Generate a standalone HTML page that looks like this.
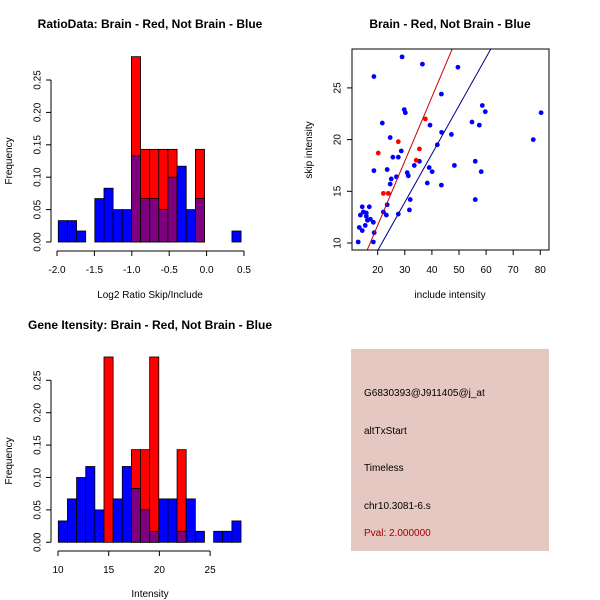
<!DOCTYPE html>
<html><head><meta charset="utf-8"><style>
html,body{margin:0;padding:0;background:#fff}
svg{display:block;font-family:"Liberation Sans","DejaVu Sans",sans-serif}
</style></head><body>
<svg id="c" width="600" height="600" viewBox="0 0 600 600" xmlns="http://www.w3.org/2000/svg">
<text x="150" y="28" text-anchor="middle" font-size="12" font-weight="bold">RatioData: Brain - Red, Not Brain - Blue</text>
<text x="450" y="28" text-anchor="middle" font-size="12" font-weight="bold">Brain - Red, Not Brain - Blue</text>
<text x="150" y="329" text-anchor="middle" font-size="12" font-weight="bold">Gene Itensity: Brain - Red, Not Brain - Blue</text>
<text x="150" y="298" text-anchor="middle" font-size="10">Log2 Ratio Skip/Include</text>
<text x="150" y="597" text-anchor="middle" font-size="10">Intensity</text>
<text x="450" y="298" text-anchor="middle" font-size="10">include intensity</text>
<text transform="translate(12,161) rotate(-90)" text-anchor="middle" font-size="10">Frequency</text>
<text transform="translate(12,461) rotate(-90)" text-anchor="middle" font-size="10">Frequency</text>
<text transform="translate(312,150) rotate(-90)" text-anchor="middle" font-size="10">skip intensity</text>
<rect x="351" y="349" width="198" height="202" fill="#E6C8C2"/>
<text x="364" y="396" font-size="10">G6830393@J911405@j_at</text>
<text x="364" y="434" font-size="10">altTxStart</text>
<text x="364" y="471" font-size="10">Timeless</text>
<text x="364" y="509" font-size="10">chr10.3081-6.s</text>
<text x="364" y="536" font-size="10" fill="#A00000">Pval: 2.000000</text>
</svg>
<script>
// ---- Ratio histogram data ----
const ratioBreakStart = -1.983;
const ratioBinWidth = 0.1222;
const ratioBlue = [0.033,0.033,0.017,0,0.067,0.083,0.05,0.05,0.133,0.067,0.067,0.05,0.1,0.117,0.05,0.067,0,0,0,0.017];
const ratioRed  = [0,0,0,0,0,0,0,0,0.286,0.143,0.143,0.143,0.143,0,0,0.143,0,0,0,0];
const ratioXTicks = [-2.0,-1.5,-1.0,-0.5,0.0,0.5];
const ratioXLabels = ["-2.0","-1.5","-1.0","-0.5","0.0","0.5"];
const freqTicks = [0,0.05,0.10,0.15,0.20,0.25];
const freqLabels = ["0.00","0.05","0.10","0.15","0.20","0.25"];
// ---- Intensity histogram data ----
const intBreakStart = 10.03;
const intBinWidth = 0.901;
const intBlue = [0.033,0.067,0.1,0.117,0.05,0,0.067,0.117,0.083,0.05,0.017,0.067,0.067,0.017,0.067,0.017,0,0.017,0.017,0.033];
const intRed  = [0,0,0,0,0,0.286,0,0,0.143,0.143,0.286,0,0,0.143,0,0,0,0,0,0];
const intXTicks = [10,15,20,25];
const intXLabels = ["10","15","20","25"];
// ---- Scatter data ----
const blueX = [29.0,36.5,49.6,18.6,43.5,58.6,59.7,29.8,30.2,80.3,21.7,54.8,57.5,39.3,43.6,47.2,24.6,77.4,42,28.7,25.6,27.6,35.4,56,33.5,48.3,18.6,23.5,39,40.1,58.2,30.9,31.3,26.9,25,24.6,38.3,43.5,32,56,23.5,14.3,16.9,13.6,14.7,15.8,15.8,22.1,23.2,27.6,31.7,16.2,17.3,18.4,15.4,13.2,14.3,18.7,12.8,18.4];
const blueY = [28.0,27.3,27.0,26.1,24.4,23.3,22.7,22.9,22.6,22.6,21.6,21.7,21.4,21.4,20.7,20.5,20.2,20.0,19.5,18.9,18.3,18.3,17.9,17.9,17.5,17.5,17.0,17.1,17.3,16.9,16.9,16.8,16.5,16.4,16.2,15.7,15.8,15.6,14.2,14.2,13.7,13.5,13.5,12.7,13.0,12.9,12.6,13.0,12.7,12.8,13.2,12.2,12.3,12.0,11.7,11.5,11.2,11.0,10.1,10.1];
const redX = [37.6,27.6,20.2,35.4,34.2,22.1,23.9];
const redY = [22.0,19.8,18.7,19.1,18.0,14.8,14.8];
const redFit = [-0.68, 0.62];   // intercept, slope
const blueFit = [-0.07, 0.467];
const scXTicks = [20,30,40,50,60,70,80];
const scYTicks = [10,15,20,25];

const svg = document.getElementById('c');
const NS = 'http://www.w3.org/2000/svg';
function mk(tag, attrs, parent){ const e=document.createElementNS(NS,tag); for(const k in attrs) e.setAttribute(k,attrs[k]); (parent||svg).appendChild(e); return e; }

function hist(blue, red, start, bw, xs, ys, y0, axisY, xTicks, xLabels, prefix){
  const g = mk('g',{});
  
  
  for(let i=0;i<blue.length;i++){
    const xa = xs(start+i*bw), xb = xs(start+(i+1)*bw);
    const b = blue[i], r = red[i];
    const mx = Math.max(b,r), mn = Math.min(b,r);
    if(mx<=0) continue;
    const col = r>b ? '#FF0000' : '#0000FF';
    const bar = mk('rect',{x:xa,y:ys(mx),width:xb-xa,height:y0-ys(mx),fill:col,stroke:'#000','stroke-width':0.8},g);
    
    
    if(mn>0){
      const ov = mk('rect',{x:xa,y:ys(mn),width:xb-xa,height:y0-ys(mn),fill:'#7F007F',stroke:'#000','stroke-width':0.8},g);
      
      
    }
  }
  // y axis
  mk('line',{x1:51,x2:51,y1:ys(0),y2:ys(0.25),stroke:'#000'});
  freqTicks.forEach((t,i)=>{
    mk('line',{x1:46,x2:51,y1:ys(t),y2:ys(t),stroke:'#000'});
    const tx = mk('text',{transform:`translate(38,${ys(t)}) rotate(-90)`,'text-anchor':'middle','font-size':10,'dominant-baseline':'middle'});
    tx.textContent = freqLabels[i];
    
    
  });
  // x axis
  mk('line',{x1:xs(xTicks[0]),x2:xs(xTicks[xTicks.length-1]),y1:axisY,y2:axisY,stroke:'#000'});
  xTicks.forEach((t,i)=>{
    mk('line',{x1:xs(t),x2:xs(t),y1:axisY,y2:axisY+5,stroke:'#000'});
    const tx = mk('text',{x:xs(t),y:axisY+22,'text-anchor':'middle','font-size':10});
    tx.textContent = xLabels[i];
    
    
  });
}

// ratio histogram scales
const rxs = v => 57 + (v+2)*74.8;
const rys = v => 242 - v*648;
hist(ratioBlue, ratioRed, ratioBreakStart, ratioBinWidth, rxs, rys, 242, 251, ratioXTicks, ratioXLabels, 'ratio');
// intensity histogram scales
const ixs = v => 58 + (v-10)*10.14;
const iys = v => 542.3 - v*648;
hist(intBlue, intRed, intBreakStart, intBinWidth, ixs, iys, 542.3, 551, intXTicks, intXLabels, 'intensity');

// scatter
const sxs = v => 377.7 + (v-20)*2.71;
const sys = v => 243 - (v-10)*10.34;
mk('clipPath',{id:'scclip'});
mk('rect',{x:352,y:49,width:197,height:201},document.getElementById('scclip'));
const sg = mk('g',{'clip-path':'url(#scclip)'});


function fitLine(fit,col,name){
  const x1=5,x2=100;
  const l = mk('line',{x1:sxs(x1),x2:sxs(x2),y1:sys(fit[0]+fit[1]*x1),y2:sys(fit[0]+fit[1]*x2),stroke:col,'stroke-width':1},sg);
  
  
}
blueX.forEach((x,i)=>{
  const c = mk('circle',{cx:sxs(x),cy:sys(blueY[i]),r:2.4,fill:'#0000FF'},sg);
  
  
});
redX.forEach((x,i)=>{
  const c = mk('circle',{cx:sxs(x),cy:sys(redY[i]),r:2.4,fill:'#FF0000'},sg);
  
  
});
fitLine(redFit,'#CC0000','brain-fit-line');
fitLine(blueFit,'#00008B','not-brain-fit-line');
mk('rect',{x:352,y:49,width:197,height:201,fill:'none',stroke:'#000'});
scXTicks.forEach(t=>{
  mk('line',{x1:sxs(t),x2:sxs(t),y1:250,y2:255,stroke:'#000'});
  const tx = mk('text',{x:sxs(t),y:273,'text-anchor':'middle','font-size':10});
  tx.textContent = String(t);
  
  
});
scYTicks.forEach(t=>{
  mk('line',{x1:347,x2:352,y1:sys(t),y2:sys(t),stroke:'#000'});
  const tx = mk('text',{transform:`translate(338,${sys(t)}) rotate(-90)`,'text-anchor':'middle','font-size':10,'dominant-baseline':'middle'});
  tx.textContent = String(t);
  
  
});
</script>
</body></html>
